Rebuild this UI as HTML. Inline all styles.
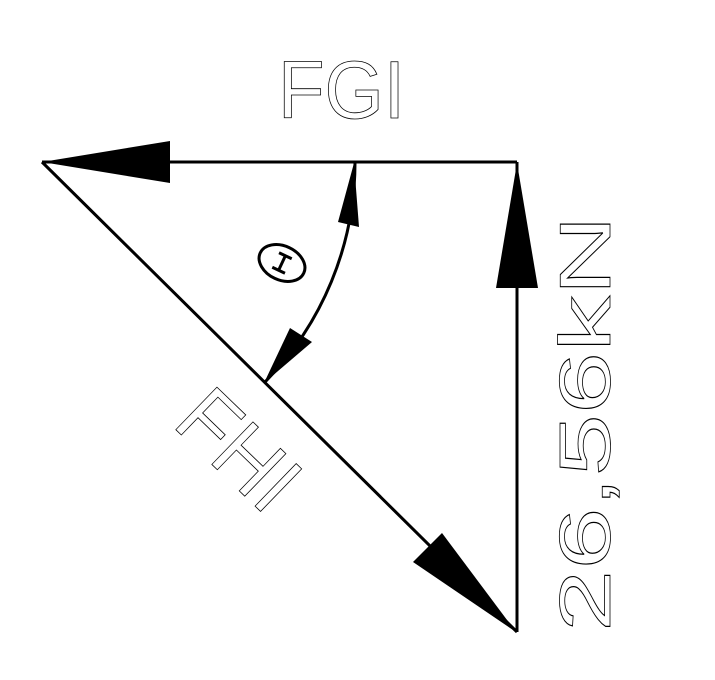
<!DOCTYPE html>
<html><head><style>html,body{margin:0;padding:0;background:#fff}svg{display:block}</style></head>
<body>
<svg width="715" height="680" viewBox="0 0 715 680" xmlns="http://www.w3.org/2000/svg">
<rect width="715" height="680" fill="#fff"/>
<g stroke="#000" stroke-width="3" fill="none">
<line x1="42" y1="162" x2="517" y2="162"/>
<line x1="517" y1="162" x2="517" y2="632"/>
<line x1="42" y1="162" x2="517" y2="632"/>
<path d="M355 162 A313 313 0 0 1 264 383"/>
</g>
<g fill="#000">
<polygon points="42,162 170,141 170,183"/>
<polygon points="517,163 496,288 538,288"/>
<polygon points="516,632 413,562 442,533"/>
<polygon points="354,163 338,222 359,227"/>
<polygon points="264,383 290,328 312,342"/>
</g>
<ellipse cx="282" cy="263" rx="24" ry="17" transform="rotate(25 282 263)" fill="none" stroke="#000" stroke-width="3"/>
<g stroke="#000" stroke-width="3" transform="rotate(25 282 263)">
<line x1="282" y1="255" x2="282" y2="271"/><line x1="275" y1="255" x2="289" y2="255"/><line x1="275" y1="271" x2="289" y2="271"/>
</g>
<g font-family="Liberation Sans, sans-serif" fill="none" stroke="#000" stroke-width="0.8">
<text x="278" y="118" font-size="82" textLength="127" lengthAdjust="spacingAndGlyphs">FGI</text>
<text transform="translate(171,425) rotate(44)" font-size="86" textLength="132" lengthAdjust="spacingAndGlyphs">FHI</text>
<text transform="translate(610,632) rotate(-90)" font-size="72" textLength="417" lengthAdjust="spacingAndGlyphs">26,56kN</text>
</g>
</svg>
</body></html>
